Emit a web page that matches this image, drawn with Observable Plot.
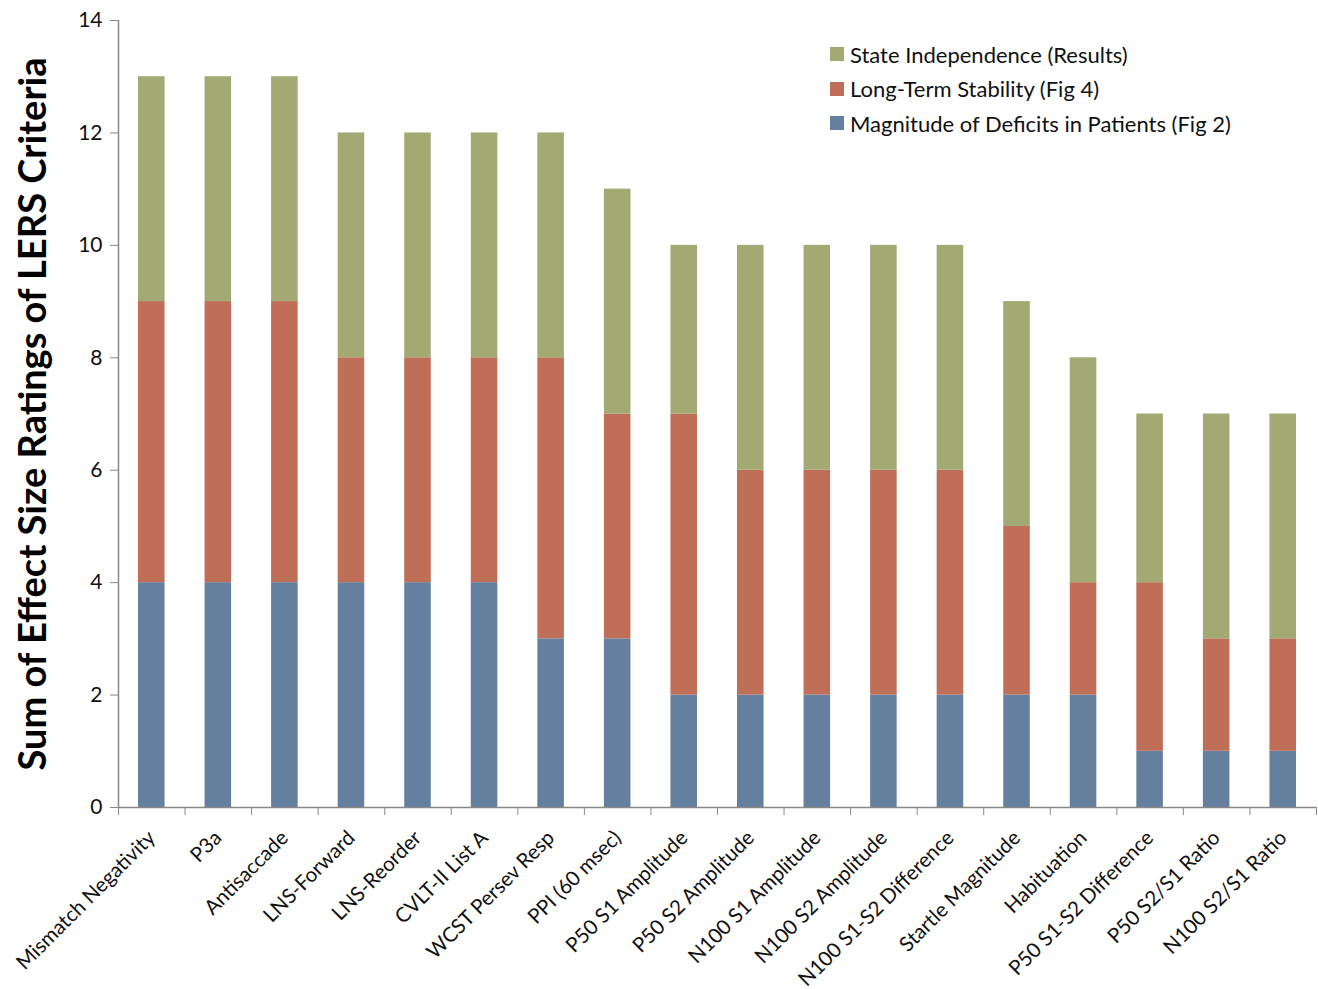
<!DOCTYPE html>
<html>
<head>
<meta charset="utf-8">
<script src="https://cdn.jsdelivr.net/npm/d3@7"></script>
<script src="https://cdn.jsdelivr.net/npm/@observablehq/plot@0.6"></script>
<style>
  html, body { margin: 0; padding: 0; background: #fff; }
  #wrap { position: relative; width: 1318px; height: 989px; font-family: Lato, "Open Sans", sans-serif; }
  #ytitle { position: absolute; left: 31px; top: 414px; transform: translate(-50%, -50%) rotate(-90deg); white-space: nowrap; font-weight: bold; font-size: 38px; color: #000; }
  #legend { position: absolute; left: 830px; top: 37px; font-size: 22px; color: #111; }
  .lg { display: flex; align-items: center; height: 34.5px; }
  .sw { width: 14px; height: 14px; margin-right: 6px; }
</style>
</head>
<body>
<div id="wrap">
  <div id="chart"></div>
  <div id="ytitle">Sum of Effect Size Ratings of LERS Criteria</div>
  <div id="legend"></div>
</div>
<script>
const categories = ["Mismatch Negativity","P3a","Antisaccade","LNS-Forward","LNS-Reorder","CVLT-II List A","WCST Persev Resp","PPI (60 msec)","P50 S1 Amplitude","P50 S2 Amplitude","N100 S1 Amplitude","N100 S2 Amplitude","N100 S1-S2 Difference","Startle Magnitude","Habituation","P50 S1-S2 Difference","P50 S2/S1 Ratio","N100 S2/S1 Ratio"];
const magnitude    = [4,4,4,4,4,4,3,3,2,2,2,2,2,2,2,1,1,1];
const stability    = [5,5,5,4,4,4,5,4,5,4,4,4,4,3,2,3,2,2];
const independence = [4,4,4,4,4,4,4,4,3,4,4,4,4,4,4,3,4,4];
const seriesNames = ["Magnitude of Deficits in Patients (Fig 2)","Long-Term Stability (Fig 4)","State Independence (Results)"];
const seriesColors = ["#65809F","#BF6E58","#A2A972"];
const yTicks = [0,2,4,6,8,10,12,14];

const seriesValues = [magnitude, stability, independence];
const data = categories.flatMap((c, i) => seriesNames.map((s, k) => ({i, cat: c, series: s, value: seriesValues[k][i]})));

const chart = Plot.plot({
  width: 1318,
  height: 989,
  marginLeft: 118,
  marginTop: 20,
  marginBottom: 182,
  marginRight: 2,
  style: {fontFamily: "Lato, 'Open Sans', sans-serif", background: "#fff"},
  x: {domain: [0, categories.length]},
  y: {domain: [0, 14]},
  color: {domain: seriesNames, range: seriesColors},
  marks: [
    Plot.rectY(data, {x: "i", interval: 1, y: "value", fill: "series", insetLeft: 20, insetRight: 20}),
    Plot.ruleX([0], {stroke: "#888", strokeWidth: 1.5}),
    Plot.ruleY([0], {stroke: "#888", strokeWidth: 1.5}),
    Plot.axisY({ticks: yTicks, tickSize: 8, tickPadding: 8, fontSize: 21, stroke: "#888", fill: "#111", label: null}),
    Plot.axisX({ticks: d3.range(0, categories.length + 1), tickSize: 8, stroke: "#888", tickFormat: () => "", label: null}),
    Plot.axisX({ticks: categories.map((_, i) => i + 0.5), tickFormat: d => categories[Math.floor(d)], tickSize: 0, tickPadding: 27, tickRotate: -45, fontSize: 20.5, fill: "#111", label: null})
  ]
});
document.getElementById("chart").appendChild(chart);

const legend = document.getElementById("legend");
[2, 1, 0].forEach(k => {
  const row = document.createElement("div");
  row.className = "lg";
  const sw = document.createElement("div");
  sw.className = "sw";
  sw.style.background = seriesColors[k];
  const t = document.createElement("span");
  t.textContent = seriesNames[k];
  row.appendChild(sw);
  row.appendChild(t);
  legend.appendChild(row);
});
</script>
</body>
</html>
